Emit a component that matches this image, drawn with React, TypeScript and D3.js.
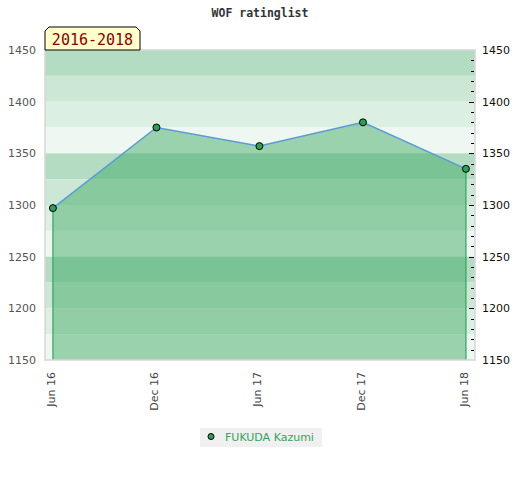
import { useEffect, useRef } from 'react';
import * as d3 from 'd3';

// Rating history
const dates = ['2016-06-01', '2016-12-01', '2017-06-01', '2017-12-01', '2018-06-01'];
const ratings = [1297, 1375, 1357, 1380, 1335];
const playerName = 'FUKUDA Kazumi';
const periodLabel = '2016-2018';
const chartTitle = 'WOF ratinglist';
const yTicks = [1150, 1200, 1250, 1300, 1350, 1400, 1450];

const bandShades = ['#b3dcc2', '#cce7d5', '#dcefe3', '#eef7f1'];

export default function App() {
  const svgRef = useRef<SVGSVGElement>(null);

  useEffect(() => {
    if (!svgRef.current) return;
    const svg = d3.select(svgRef.current);
    svg.selectAll('*').remove();

    const W = 520;
    const H = 480;
    const margin = { top: 50, right: 45, bottom: 120, left: 45 };
    const innerW = W - margin.left - margin.right;
    const innerH = H - margin.top - margin.bottom;

    const parse = d3.timeParse('%Y-%m-%d');
    const data = dates.map((d, i) => ({ date: parse(d) as Date, value: ratings[i] }));

    const x = d3
      .scaleTime()
      .domain([new Date(2016, 4, 18), new Date(2018, 5, 17)])
      .range([0, innerW]);
    const y = d3.scaleLinear().domain([1150, 1450]).range([innerH, 0]);

    svg.attr('width', W).attr('height', H);

    // Title
    svg
      .append('text')
      .attr('x', 260)
      .attr('y', 17)
      .attr('text-anchor', 'middle')
      .attr('font-family', 'DejaVu Sans Mono')
      .attr('font-weight', 'bold')
      .attr('font-size', '11.5px')
      .attr('fill', '#333')
      .text(chartTitle);

    const g = svg.append('g').attr('transform', `translate(${margin.left},${margin.top})`);

    // Background bands every 25 points
    const bands = d3.range(1450, 1150, -25);
    g.selectAll('.band')
      .data(bands)
      .enter()
      .append('rect')
      .attr('x', 0)
      .attr('y', (d) => y(d))
      .attr('width', innerW)
      .attr('height', (d) => y(d - 25) - y(d))
      .attr('fill', (_d, i) => bandShades[i % 4]);

    // Area under the rating line
    const area = d3
      .area<{ date: Date; value: number }>()
      .x((d) => x(d.date))
      .y0(innerH)
      .y1((d) => y(d.value));
    g.append('path')
      .datum(data)
      .attr('d', area)
      .attr('fill', 'rgb(50,164,89)')
      .attr('fill-opacity', 0.44);

    // Vertical edges at first and last points
    [data[0], data[data.length - 1]].forEach((d) => {
      g.append('line')
        .attr('x1', x(d.date))
        .attr('x2', x(d.date))
        .attr('y1', y(d.value))
        .attr('y2', innerH)
        .attr('stroke', '#35a35e')
        .attr('stroke-width', 1.2);
    });

    // Line
    const line = d3
      .line<{ date: Date; value: number }>()
      .x((d) => x(d.date))
      .y((d) => y(d.value));
    g.append('path')
      .datum(data)
      .attr('d', line)
      .attr('fill', 'none')
      .attr('stroke', '#5b9bd5')
      .attr('stroke-width', 1.5);

    // Points
    g.selectAll('.pt')
      .data(data)
      .enter()
      .append('circle')
      .attr('cx', (d) => x(d.date))
      .attr('cy', (d) => y(d.value))
      .attr('r', 3.5)
      .attr('fill', '#2e9e5b')
      .attr('stroke', '#000')
      .attr('stroke-width', 1);

    // Plot border
    g.append('rect')
      .attr('x', 0)
      .attr('y', 0)
      .attr('width', innerW)
      .attr('height', innerH)
      .attr('fill', 'none')
      .attr('stroke', '#d6d6d6')
      .attr('stroke-width', 1.5);

    // Right axis ticks (inside), minor every 10
    const minor = d3.range(1160, 1450, 10).filter((v) => v % 50 !== 0);
    g.selectAll('.minor')
      .data(minor)
      .enter()
      .append('line')
      .attr('x1', innerW - 4)
      .attr('x2', innerW - 1)
      .attr('y1', (d) => Math.round(y(d)) + 0.5)
      .attr('y2', (d) => Math.round(y(d)) + 0.5)
      .attr('stroke', '#000');
    g.selectAll('.major')
      .data(yTicks.filter((v) => v !== 1150 && v !== 1450))
      .enter()
      .append('line')
      .attr('x1', innerW - 6)
      .attr('x2', innerW - 1)
      .attr('y1', (d) => Math.round(y(d)) + 0.5)
      .attr('y2', (d) => Math.round(y(d)) + 0.5)
      .attr('stroke', '#000');

    // Left labels
    g.selectAll('.ly')
      .data(yTicks)
      .enter()
      .append('text')
      .attr('x', -9)
      .attr('y', (d) => y(d))
      .attr('dy', '0.35em')
      .attr('text-anchor', 'end')
      .attr('font-family', 'DejaVu Sans')
      .attr('font-size', '11px')
      .attr('fill', '#555')
      .text((d) => d);

    // Right labels
    g.selectAll('.ry')
      .data(yTicks)
      .enter()
      .append('text')
      .attr('x', innerW + 7)
      .attr('y', (d) => y(d))
      .attr('dy', '0.35em')
      .attr('text-anchor', 'start')
      .attr('font-family', 'DejaVu Sans')
      .attr('font-size', '11px')
      .attr('fill', '#111')
      .text((d) => d);

    // X labels, rotated
    const fmt = d3.timeFormat('%b %y');
    g.selectAll('.xl')
      .data(data)
      .enter()
      .append('text')
      .attr('transform', (d) => `translate(${x(d.date) + 2},${innerH + 12}) rotate(-90)`)
      .attr('text-anchor', 'end')
      .attr('font-family', 'DejaVu Sans')
      .attr('font-size', '11px')
      .attr('fill', '#444')
      .text((d) => fmt(d.date));

    // Period tag above the plot
    const tag = svg.append('g').attr('transform', 'translate(45,27)');
    const tw = 95;
    const th = 23;
    const c = 4;
    tag
      .append('path')
      .attr('d', `M0,${th} L0,${c} L${c},0 L${tw - c},0 L${tw},${c} L${tw},${th} Z`)
      .attr('fill', '#ffffcc')
      .attr('stroke', '#000')
      .attr('stroke-width', 1);
    tag
      .append('text')
      .attr('x', tw / 2)
      .attr('y', 18)
      .attr('text-anchor', 'middle')
      .attr('font-family', 'DejaVu Sans Mono')
      .attr('font-size', '15px')
      .attr('fill', '#8b0000')
      .text(periodLabel);

    // Legend
    const leg = svg.append('g').attr('transform', 'translate(200,428)');
    leg.append('rect').attr('width', 122).attr('height', 19).attr('fill', '#f0f0f0');
    leg
      .append('circle')
      .attr('cx', 11)
      .attr('cy', 8.5)
      .attr('r', 3)
      .attr('fill', '#2e9e5b')
      .attr('stroke', '#000');
    leg
      .append('text')
      .attr('x', 25)
      .attr('y', 12.5)
      .attr('font-family', 'DejaVu Sans')
      .attr('font-size', '11px')
      .attr('fill', '#35a35e')
      .text(playerName);
  }, []);

  return <svg ref={svgRef} style={{ position: 'absolute', left: 0, top: 0 }} />;
}
